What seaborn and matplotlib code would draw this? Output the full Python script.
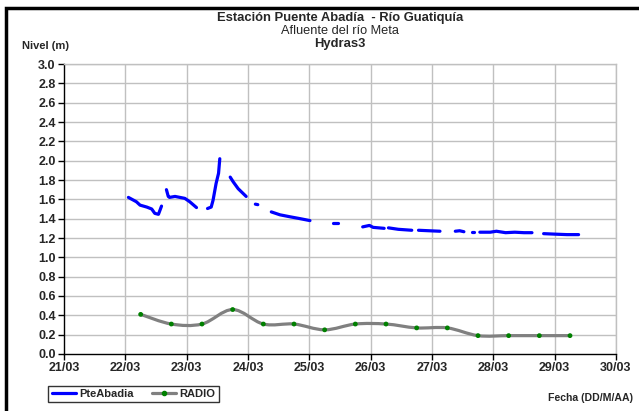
import numpy as np
import pandas as pd
import seaborn as sns
import matplotlib.pyplot as plt
from matplotlib.path import Path
from matplotlib.patches import PathPatch, Rectangle
from matplotlib.lines import Line2D

# PteAbadia level (m), one list per continuous stretch; x in days of March
pte_days = [
    [22.05, 22.18, 22.24, 22.35, 22.43, 22.48, 22.54, 22.59],
    [22.67, 22.70, 22.72, 22.81, 22.89, 22.97, 23.05, 23.16],
    [23.34, 23.40, 23.43, 23.48, 23.52, 23.54],
    [23.71, 23.76, 23.84, 23.97],
    [24.12, 24.16],
    [24.38, 24.52, 24.68, 24.85, 25.01],
    [25.39, 25.46],
    [25.87, 25.98, 26.04, 26.22],
    [26.29, 26.45, 26.67],
    [26.78, 26.95, 27.13],
    [27.38, 27.45, 27.52],
    [27.66, 27.68],
    [27.78, 27.95, 28.05, 28.20, 28.35, 28.50, 28.63],
    [28.82, 29.00, 29.20, 29.39],
]
pte_level = [
    [1.62, 1.575, 1.54, 1.52, 1.50, 1.455, 1.445, 1.53],
    [1.70, 1.63, 1.62, 1.63, 1.62, 1.61, 1.575, 1.515],
    [1.505, 1.52, 1.59, 1.765, 1.87, 2.02],
    [1.83, 1.78, 1.71, 1.63],
    [1.55, 1.545],
    [1.47, 1.44, 1.42, 1.40, 1.38],
    [1.355, 1.355],
    [1.315, 1.33, 1.31, 1.30],
    [1.305, 1.29, 1.28],
    [1.28, 1.275, 1.27],
    [1.27, 1.275, 1.265],
    [1.265, 1.265],
    [1.26, 1.26, 1.27, 1.255, 1.26, 1.255, 1.255],
    [1.245, 1.24, 1.235, 1.235],
]

# RADIO readings (06:00 and 18:00)
radio_days = [22.25, 22.75, 23.25, 23.75, 24.25, 24.75, 25.25, 25.75,
              26.25, 26.75, 27.25, 27.75, 28.25, 28.75, 29.25]
radio_level = [0.41, 0.31, 0.31, 0.46, 0.31, 0.31, 0.25, 0.31,
               0.31, 0.27, 0.27, 0.19, 0.19, 0.19, 0.19]

x_ticks = list(range(21, 31))
x_labels = ['%02d/03' % d for d in x_ticks]
y_ticks = np.round(np.arange(0, 3.01, 0.2), 1)

sns.set_style('white')
plt.rcParams['font.family'] = ['Liberation Sans', 'DejaVu Sans']

rows = []
for k, (ds, ls) in enumerate(zip(pte_days, pte_level)):
    for d, l in zip(ds, ls):
        rows.append({'dia': d, 'nivel': l, 'tramo': k})
pte = pd.DataFrame(rows)
radio = pd.DataFrame({'dia': radio_days, 'nivel': radio_level})

fig = plt.figure(figsize=(6.39, 4.11), dpi=100)
ax = fig.add_axes([64 / 639, 1 - 354 / 411, 552 / 639, 290 / 411])

grid_c = '#c0c0c0'
for d in x_ticks[1:]:
    ax.axvline(d, color=grid_c, lw=1, zorder=0)
for v in y_ticks[1:]:
    ax.axhline(v, color=grid_c, lw=1, zorder=0)

sns.lineplot(data=pte, x='dia', y='nivel', units='tramo', estimator=None,
             color='#0000ff', lw=2.3, ax=ax, legend=False, zorder=3)

# smoothed line through the radio readings (Catmull-Rom style Bezier)
p = np.column_stack([radio_days, radio_level])
verts = [p[0]]
codes = [Path.MOVETO]
for i in range(len(p) - 1):
    p0 = p[i - 1] if i > 0 else p[i]
    p3 = p[i + 2] if i + 2 < len(p) else p[i + 1]
    c1 = p[i] + (p[i + 1] - p0) / 6
    c2 = p[i + 1] - (p3 - p[i]) / 6
    verts += [c1, c2, p[i + 1]]
    codes += [Path.CURVE4] * 3
ax.add_patch(PathPatch(Path(verts, codes), fill=False, edgecolor='#808080',
                       lw=2.3, zorder=2))
sns.scatterplot(data=radio, x='dia', y='nivel', color='#008000', s=12,
                edgecolor='none', ax=ax, zorder=4)

ax.set_xlim(21, 30)
ax.set_ylim(0, 3)
ax.set_xticks(x_ticks)
ax.set_xticklabels(x_labels)
ax.set_yticks(y_ticks)
ax.set_yticklabels(['%.1f' % v for v in y_ticks])
ax.set_xlabel('')
ax.set_ylabel('')
ax.tick_params(axis='both', direction='out', length=4, width=1, color='black',
               labelsize=9, pad=2, bottom=True, left=True)
for t in ax.get_xticklabels() + ax.get_yticklabels():
    t.set_fontweight('bold')
ax.spines['left'].set_color('black')
ax.spines['bottom'].set_color('black')
ax.spines['top'].set_color(grid_c)
ax.spines['right'].set_color(grid_c)
for s in ax.spines.values():
    s.set_linewidth(1)

fig.text(340 / 639, 1 - 18 / 411, 'Estación Puente Abadía  - Río Guatiquía',
         ha='center', va='center', fontsize=9.4, fontweight='bold')
fig.text(340 / 639, 1 - 31 / 411, 'Afluente del río Meta',
         ha='center', va='center', fontsize=9.2)
fig.text(340 / 639, 1 - 44 / 411, 'Hydras3',
         ha='center', va='center', fontsize=9.4, fontweight='bold')
fig.text(22 / 639, 1 - 46 / 411, 'Nivel (m)', ha='left', va='center',
         fontsize=8, fontweight='bold')
fig.text(633 / 639, 1 - 398 / 411, 'Fecha (DD/M/AA)', ha='right', va='center',
         fontsize=7.6, fontweight='bold')

handles = [Line2D([], [], color='#0000ff', lw=2.3),
           Line2D([], [], color='#808080', lw=2.3, marker='o', markersize=3,
                  markerfacecolor='#008000', markeredgecolor='#008000')]
leg = fig.legend(handles, ['PteAbadia', 'RADIO'], loc='center',
                 bbox_to_anchor=(133.5 / 639, 1 - 394 / 411), ncol=2,
                 fontsize=8, frameon=True, fancybox=False, borderpad=0.3,
                 handlelength=2.2, handletextpad=0.3, columnspacing=1.6)
leg.get_frame().set_edgecolor('black')
leg.get_frame().set_linewidth(1)
for t in leg.get_texts():
    t.set_fontweight('bold')

# outer frame of the chart area
fig.add_artist(Rectangle((6 / 639, -0.1), 1.1, 1 - 8 / 411 + 0.1,
                         transform=fig.transFigure, fill=False,
                         edgecolor='black', lw=2.5))

fig.savefig('out.png', dpi=100)
